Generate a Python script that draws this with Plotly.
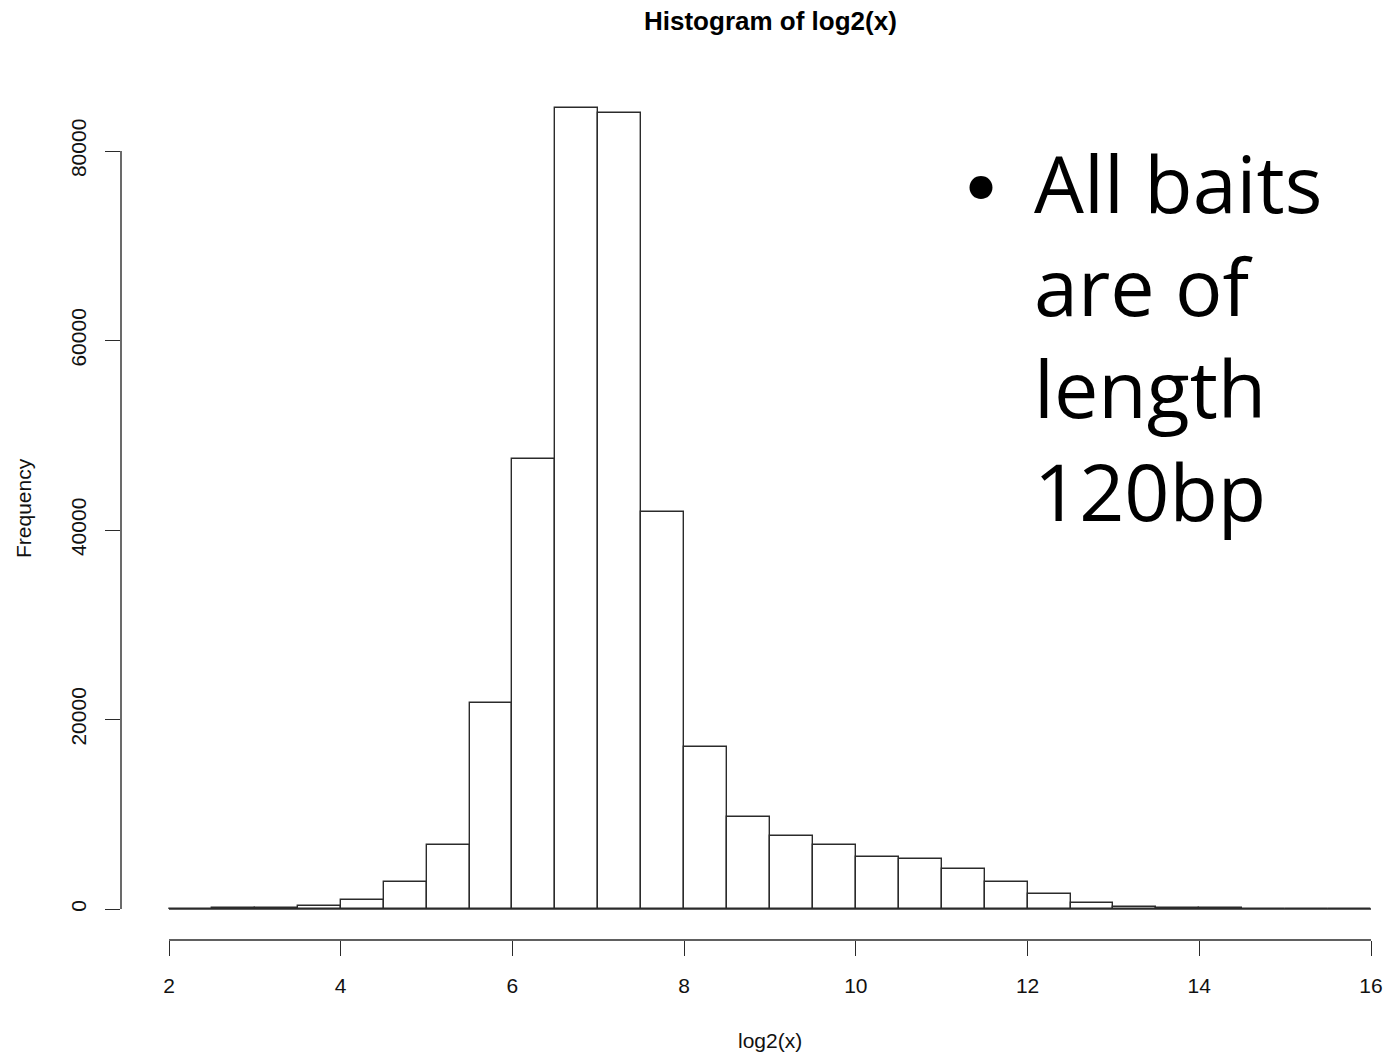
import plotly.graph_objects as go

# Histogram of log2(x): bins of width 0.5 from 2 to 16
bin_edges = [2.0, 2.5, 3.0, 3.5, 4.0, 4.5, 5.0, 5.5, 6.0, 6.5, 7.0, 7.5, 8.0, 8.5, 9.0,
             9.5, 10.0, 10.5, 11.0, 11.5, 12.0, 12.5, 13.0, 13.5, 14.0, 14.5, 15.0, 15.5, 16.0]
counts = [0, 100, 120, 290, 950, 2890, 6720, 21710, 47530, 84540, 83980, 41900, 17130,
          9710, 7670, 6790, 5450, 5240, 4220, 2820, 1620, 660, 250, 100, 80, 20, 10, 10]

x_ticks = [2, 4, 6, 8, 10, 12, 14, 16]
y_ticks = [0, 20000, 40000, 60000, 80000]

title_text = "Histogram of log2(x)"
x_label = "log2(x)"
y_label = "Frequency"
note_lines = ["All baits", "are of", "length", "120bp"]

centers = [(a + b) / 2 for a, b in zip(bin_edges[:-1], bin_edges[1:])]
widths = [b - a for a, b in zip(bin_edges[:-1], bin_edges[1:])]

W, H = 1388, 1054
ML, MR, MT, MB = 121, 0, 76, 114
px_per_x = (1371 - 169) / 14.0
px_per_y = 758 / 80000.0
x0 = 2 - (169 - ML) / px_per_x
x1 = 2 + (W - MR - 169) / px_per_x
y0 = -(H - MB - 909) / px_per_y
y1 = (909 - MT) / px_per_y

line_col = "#2b2b2b"
axis_font = dict(family="Liberation Sans, Arial, sans-serif", size=21, color="#111")

fig = go.Figure()
fig.add_trace(go.Bar(
    x=centers, y=counts, width=widths,
    marker=dict(color="white", line=dict(color=line_col, width=1.4)),
    showlegend=False, hoverinfo="x+y",
))

shapes = [
    # histogram baseline across all bins
    dict(type="line", xref="x", yref="y", x0=bin_edges[0], x1=bin_edges[-1], y0=0, y1=0,
         line=dict(color=line_col, width=1.4)),
    # R-style detached y-axis line
    dict(type="line", xref="paper", yref="y", x0=0, x1=0, y0=y_ticks[0], y1=y_ticks[-1],
         line=dict(color=line_col, width=1.4)),
    # R-style detached x-axis line
    dict(type="line", xref="x", yref="paper", x0=x_ticks[0], x1=x_ticks[-1], y0=0, y1=0,
         line=dict(color=line_col, width=1.4)),
]

plot_w = W - ML - MR
plot_h = H - MT - MB

note_font = dict(family="Open Sans, sans-serif", size=79, color="#000")

annotations = [
    dict(text="<b>" + title_text + "</b>", xref="paper", yref="paper",
         x=(770 - ML) / plot_w, y=1 + (MT - 21) / plot_h, xanchor="center", yanchor="middle",
         showarrow=False, font=dict(family="Liberation Sans, Arial, sans-serif", size=26, color="#000")),
    dict(text=x_label, xref="paper", yref="paper",
         x=(770 - ML) / plot_w, y=-(1040 - (H - MB)) / plot_h, xanchor="center", yanchor="middle",
         showarrow=False, font=axis_font),
    dict(text=y_label, xref="paper", yref="paper", textangle=-90,
         x=-(ML - 23) / plot_w, y=0.5, xanchor="center", yanchor="middle",
         showarrow=False, font=axis_font),
    dict(text="•", xref="paper", yref="paper",
         x=(981 - ML) / plot_w, y=1 - (182 - MT) / plot_h, xanchor="center", yanchor="middle",
         showarrow=False, font=dict(family="Lato, sans-serif", size=62, color="#000")),
    dict(text="<br>".join(note_lines), xref="paper", yref="paper", align="left",
         x=(1032 - ML) / plot_w, y=1 - (336 - MT) / plot_h,
         xanchor="left", yanchor="middle", showarrow=False, font=note_font),
]

fig.update_layout(
    width=W, height=H,
    margin=dict(l=ML, r=MR, t=MT, b=MB, pad=0),
    paper_bgcolor="white", plot_bgcolor="white",
    xaxis=dict(range=[x0, x1], tickvals=x_ticks, ticktext=[str(v) for v in x_ticks],
               ticks="outside", ticklen=15, tickwidth=1.4, tickcolor=line_col,
               ticklabelstandoff=12,
               showline=False, showgrid=False, zeroline=False, tickfont=axis_font),
    yaxis=dict(range=[y0, y1], tickvals=y_ticks, ticktext=[str(v) for v in y_ticks],
               ticks="outside", ticklen=15, tickwidth=1.4, tickcolor=line_col, tickangle=-90,
               ticklabelstandoff=11,
               showline=False, showgrid=False, zeroline=False, tickfont=axis_font),
    shapes=shapes, annotations=annotations, bargap=0,
)

fig.write_html("out.html")
